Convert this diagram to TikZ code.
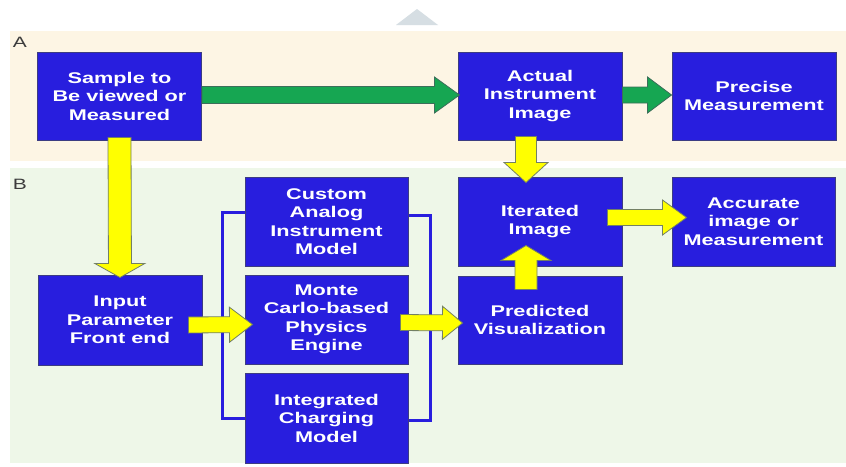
\documentclass[tikz,border=0pt]{standalone}
\usepackage{fontspec}
\setmainfont{Liberation Sans}[FakeStretch=1.4]
\usetikzlibrary{calc}
\definecolor{boxblue}{RGB}{40,30,222}
\definecolor{boxedge}{RGB}{60,60,130}
\definecolor{panelA}{RGB}{253,245,228}
\definecolor{panelB}{RGB}{238,247,232}
\definecolor{greenfill}{RGB}{22,166,82}
\definecolor{greenedge}{RGB}{60,110,90}
\definecolor{yellowfill}{RGB}{255,255,0}
\definecolor{yellowedge}{RGB}{115,128,100}
\definecolor{tri}{RGB}{214,222,227}
\definecolor{labelgray}{RGB}{60,60,60}
% #1 style, #2 start, #3 end, #4 shaft half width, #5 head half width, #6 head length
\newcommand{\blockarrow}[6]{%
  \draw[#1] let \p1=#2, \p2=#3, \n1={atan2(\y2-\y1,\x2-\x1)}, \n2={veclen(\x2-\x1,\y2-\y1)} in
  {[shift={(\p1)},rotate=\n1] (0,#4) -- ({\n2-#6},#4) -- ({\n2-#6},#5) -- ({\n2},0) -- ({\n2-#6},-#5) -- ({\n2-#6},-#4) -- (0,-#4) -- cycle};
}
\tikzset{
  box/.style={draw=boxedge, line width=1pt, fill=boxblue, text=white,
    font=\bfseries\fontsize{15.5}{18.5}\selectfont, align=center, inner sep=0pt,
    minimum width=164pt, minimum height=88pt},
  garrow/.style={fill=greenfill, draw=greenedge, line width=0.8pt, line join=miter},
  yarrow/.style={fill=yellowfill, draw=yellowedge, line width=0.8pt, line join=miter},
  bracket/.style={draw=boxblue, line width=3pt},
  panellabel/.style={text=labelgray, font=\fontsize{15}{15}\selectfont, inner sep=0pt}
}
\begin{document}
\begin{tikzpicture}[x=1pt,y=-1pt]
\useasboundingbox (0,0) rectangle (846,466);
\fill[white] (0,0) rectangle (846,466);
% top triangle
\fill[tri] (396,25) -- (417,9) -- (438,25) -- cycle;
% panels
\fill[panelA] (10,31) rectangle (846,161);
\fill[panelB] (10,168) rectangle (846,463);
\node[panellabel] (labA) at (20,42.5) {A};
\node[panellabel] (labB) at (20,184) {B};
% boxes
\node[box] (sample) at (119.5,96) {Sample to\\Be viewed or\\Measured};
\node[box] (actual) at (540,96) {Actual\\Instrument\\Image};
\node[box] (precise) at (754,96) {Precise\\Measurement};
\node[box, minimum height=90pt] (input) at (120,320) {Input\\Parameter\\Front end};
\node[box, minimum width=163pt, minimum height=89pt] (custom) at (326.5,221.5) {Custom\\Analog\\Instrument\\Model};
\node[box, minimum width=163pt, minimum height=89pt] (monte) at (326.5,319.5) {Monte\\Carlo-based\\Physics\\Engine};
\node[box, minimum width=163pt, minimum height=90pt] (integ) at (326.5,418) {Integrated\\Charging\\Model};
\node[box, minimum height=89pt] (iterated) at (540,221.5) {Iterated\\Image};
\node[box] (predicted) at (540,320) {Predicted\\Visualization};
\node[box, minimum width=163pt, minimum height=89pt] (accurate) at (753.5,221.5) {Accurate\\image or\\Measurement};
% brackets
\draw[bracket] ([yshift=9.5pt]custom.west) -- ++(-22,0) |- (integ.west);
\draw[bracket] ([yshift=6.5pt]custom.east) -- ++(22,0) |- ([yshift=-2pt]integ.east);
% green arrows
\blockarrow{garrow}{($(sample.east)+(0,-1)$)}{($(actual.west)+(2,-1)$)}{8.5}{18}{25}
\blockarrow{garrow}{($(actual.east)+(0,-1)$)}{($(precise.west)+(0,-1)$)}{8}{18}{24}
% yellow arrows
\blockarrow{yarrow}{($(sample.south)+(0,-3)$)}{($(input.north)+(0,3)$)}{11.5}{25}{14}
\blockarrow{yarrow}{($(actual.south)+(-14,-4)$)}{($(iterated.north)+(-14,6)$)}{10.5}{22}{20}
\blockarrow{yarrow}{($(predicted.north)+(-14,14)$)}{($(iterated.south)+(-14,-21)$)}{11}{25}{15}
\blockarrow{yarrow}{($(input.east)+(-14,5)$)}{($(monte.west)+(8,5)$)}{8}{17.5}{23}
\blockarrow{yarrow}{($(monte.east)+(-8,3)$)}{($(predicted.west)+(5,3)$)}{8}{16.5}{20}
\blockarrow{yarrow}{($(iterated.east)+(-15,-4)$)}{($(accurate.west)+(15,-4)$)}{8}{17.5}{24}
\end{tikzpicture}
\end{document}
